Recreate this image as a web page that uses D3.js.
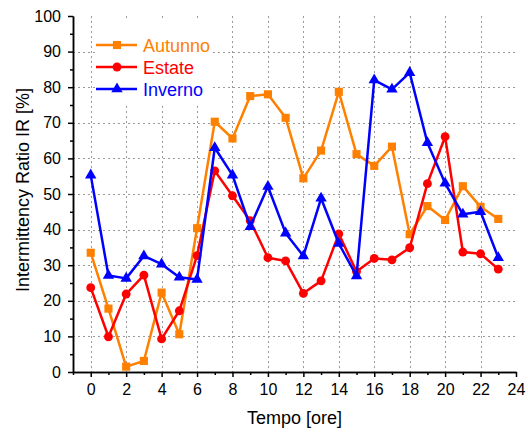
<!DOCTYPE html>
<html>
<head>
<meta charset="utf-8">
<script src="https://cdn.jsdelivr.net/npm/d3@7"></script>
<style>
  html, body { margin: 0; padding: 0; background: #fff; }
  svg { display: block; font-family: "Liberation Sans", Arial, sans-serif; }
</style>
</head>
<body>
<svg id="chart" width="528" height="432"></svg>
<script>
// Hours of the day
const hours = d3.range(0, 24);

// Intermittency ratio IR [%] per hour, one series per season
const autunno = [33.5, 17.8, 1.5, 3.1, 22.3, 10.6, 40.4, 70.3, 65.6, 77.5, 78.0, 71.4,
                 54.4, 62.2, 78.7, 61.2, 57.9, 63.3, 38.7, 46.6, 42.7, 52.2, 46.4, 43.0];
const estate  = [23.7, 9.9, 21.9, 27.2, 9.3, 17.2, 32.7, 56.5, 49.5, 42.5, 32.1, 31.2,
                 22.1, 25.6, 38.8, 28.2, 31.9, 31.5, 34.9, 52.9, 66.1, 33.7, 33.2, 28.9];
const inverno = [55.3, 27.1, 26.3, 32.6, 30.3, 26.6, 26.0, 63.0, 55.3, 40.8, 52.1, 39.0,
                 32.6, 48.8, 36.1, 27.0, 82.0, 79.4, 84.1, 64.4, 53.0, 44.3, 45.0, 32.1];

const seriesNames = ["Autunno", "Estate", "Inverno"];
const seriesColors = ["#ff8000", "#ff0000", "#0000ff"];
const seriesSymbols = [d3.symbolSquare, d3.symbolCircle, d3.symbolTriangle];
const seriesSizes = [66, 62, 56];

// Axis ticks
const xMajorTicks = d3.range(0, 25, 2);
const xMinorTicks = d3.range(-1, 24, 2);
const yMajorTicks = d3.range(0, 101, 10);
const yMinorTicks = d3.range(5, 100, 10);
const xGrid = d3.range(0, 23, 2);
const yGrid = d3.range(10, 91, 10);

const svg = d3.select("#chart");
const plot = { left: 73, right: 516, top: 16, bottom: 372 };

const x = d3.scaleLinear().domain([-1, 24]).range([plot.left, plot.right]);
const y = d3.scaleLinear().domain([0, 100]).range([plot.bottom, plot.top]);

// Dotted grid
const grid = svg.append("g")
  .attr("stroke", "#9a9a9a")
  .attr("stroke-width", 1)
  .attr("stroke-dasharray", "2,3");
grid.selectAll("line.v").data(xGrid).join("line")
  .attr("class", "v")
  .attr("x1", d => Math.round(x(d)) + 0.5).attr("x2", d => Math.round(x(d)) + 0.5)
  .attr("y1", plot.top).attr("y2", plot.bottom);
grid.selectAll("line.h").data(yGrid).join("line")
  .attr("class", "h")
  .attr("y1", d => Math.round(y(d)) + 0.5).attr("y2", d => Math.round(y(d)) + 0.5)
  .attr("x1", plot.left).attr("x2", plot.right);

// Legend background masks the grid behind it
svg.append("rect")
  .attr("x", 95).attr("y", 18).attr("width", 118).attr("height", 85)
  .attr("fill", "#fff");

// Axes
function styleAxis(g) {
  g.selectAll("path.domain").attr("stroke", "#000").attr("stroke-width", 1.5);
  g.selectAll(".tick line").attr("stroke", "#000").attr("stroke-width", 1.5);
  g.selectAll(".tick text").attr("fill", "#000").attr("font-size", 16)
    .attr("font-family", "'Liberation Sans', Arial, sans-serif");
}

svg.append("g")
  .attr("transform", `translate(0,${plot.bottom})`)
  .call(d3.axisBottom(x).tickValues(xMinorTicks).tickFormat("").tickSize(3).tickSizeOuter(0))
  .call(styleAxis);
svg.append("g")
  .attr("transform", `translate(0,${plot.bottom})`)
  .call(d3.axisBottom(x).tickValues(xMajorTicks).tickFormat(d3.format("d")).tickSize(5).tickSizeOuter(0).tickPadding(7))
  .call(styleAxis);

svg.append("g")
  .attr("transform", `translate(${plot.left},0)`)
  .call(d3.axisLeft(y).tickValues(yMinorTicks).tickFormat("").tickSize(3).tickSizeOuter(0))
  .call(styleAxis);
svg.append("g")
  .attr("transform", `translate(${plot.left},0)`)
  .call(d3.axisLeft(y).tickValues(yMajorTicks).tickFormat(d3.format("d")).tickSize(5).tickSizeOuter(0).tickPadding(7))
  .call(styleAxis);

// Axis titles
svg.append("text")
  .attr("x", (plot.left + plot.right) / 2).attr("y", 424)
  .attr("text-anchor", "middle").attr("font-size", 18).attr("fill", "#000")
  .text("Tempo [ore]");
svg.append("text")
  .attr("transform", "translate(29,190) rotate(-90)")
  .attr("text-anchor", "middle").attr("font-size", 18).attr("fill", "#000")
  .text("Intermittency Ratio IR [%]");

// Series
const allSeries = [autunno, estate, inverno];
const line = d3.line().x((d, i) => x(hours[i])).y(d => y(d));

allSeries.forEach((values, k) => {
  const g = svg.append("g");
  g.append("path")
    .datum(values)
    .attr("d", line)
    .attr("fill", "none")
    .attr("stroke", seriesColors[k])
    .attr("stroke-width", 2.5)
    .attr("stroke-linejoin", "round");
  g.selectAll("path.marker").data(values).join("path")
    .attr("class", "marker")
    .attr("transform", (d, i) => `translate(${x(hours[i])},${y(d)})`)
    .attr("d", d3.symbol().type(seriesSymbols[k]).size(seriesSizes[k]))
    .attr("fill", seriesColors[k]);
});

// Legend
const legend = svg.append("g");
seriesNames.forEach((name, k) => {
  const cy = 45 + k * 22;
  legend.append("line")
    .attr("x1", 96).attr("x2", 137).attr("y1", cy).attr("y2", cy)
    .attr("stroke", seriesColors[k]).attr("stroke-width", 2.5);
  legend.append("path")
    .attr("transform", `translate(117,${cy})`)
    .attr("d", d3.symbol().type(seriesSymbols[k]).size(seriesSizes[k]))
    .attr("fill", seriesColors[k]);
  legend.append("text")
    .attr("x", 143).attr("y", cy + 6.5)
    .attr("font-size", 18).attr("fill", seriesColors[k])
    .text(name);
});
</script>
</body>
</html>
